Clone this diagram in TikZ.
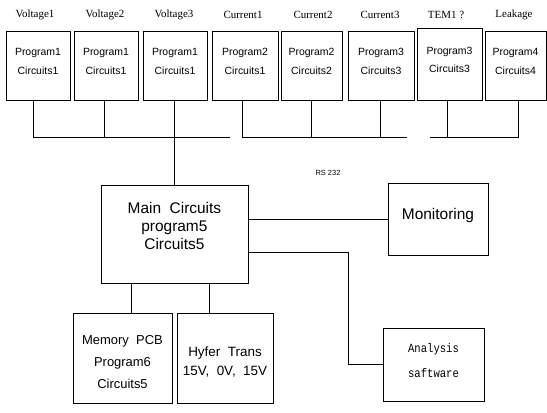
\documentclass[tikz,border=0pt]{standalone}
\usepackage{fontspec}
\setmainfont{Liberation Serif}
\setsansfont{Liberation Sans}
\setmonofont{Liberation Mono}
\newfontfamily\anafont[FakeStretch=0.85]{Liberation Mono}
\begin{document}
\begin{tikzpicture}[x=1bp,y=-1bp,
  every path/.style={line width=0.8bp},
  topbox/.style={draw,minimum height=69bp,inner sep=0pt},
  toptext/.style={font=\sffamily\fontsize{10.5}{18.5}\selectfont,align=center,inner sep=0pt},
  toplabel/.style={font=\fontsize{11}{12}\selectfont,inner sep=0pt},
  bigbox/.style={draw,inner sep=0pt},
]
\fill[white] (0,0) rectangle (547,412);
\useasboundingbox (0,0) rectangle (547,412);

% top labels
\node[toplabel] (l1) at (35,15) {Voltage1};
\node[toplabel] (l2) at (105,15) {Voltage2};
\node[toplabel] (l3) at (174,15) {Voltage3};
\node[toplabel] (l4) at (243,15) {Current1};
\node[toplabel] (l5) at (313,15) {Current2};
\node[toplabel] (l6) at (380,15) {Current3};
\node[toplabel] (l7) at (446,15) {TEM1 ?};
\node[toplabel] (l8) at (514,15) {Leakage};

% top boxes
\node[topbox,minimum width=64bp] (b1) at (38,65.5) {};
\node[topbox,minimum width=64bp] (b2) at (106,65.5) {};
\node[topbox,minimum width=64bp] (b3) at (175,65.5) {};
\node[topbox,minimum width=66bp] (b4) at (245,65.5) {};
\node[topbox,minimum width=61bp] (b5) at (311.5,65.5) {};
\node[topbox,minimum width=66bp] (b6) at (381,65.5) {};
\node[topbox,minimum width=65bp,minimum height=72bp] (b7) at (449.5,64) {};
\node[topbox,minimum width=61bp] (b8) at (515.5,65.5) {};

\node[toptext] (t1) at ([yshift=4bp]b1.center) {Program1\\Circuits1};
\node[toptext] (t2) at ([yshift=4bp]b2.center) {Program1\\Circuits1};
\node[toptext] (t3) at ([yshift=4bp]b3.center) {Program1\\Circuits1};
\node[toptext] (t4) at ([yshift=4bp]b4.center) {Program2\\Circuits1};
\node[toptext] (t5) at ([yshift=4bp]b5.center) {Program2\\Circuits2};
\node[toptext] (t6) at ([yshift=4bp]b6.center) {Program3\\Circuits3};
\node[toptext] (t7) at ([yshift=4bp]b7.center) {Program3\\Circuits3};
\node[toptext] (t8) at ([yshift=4bp]b8.center) {Program4\\Circuits4};

% main and other boxes
\node[bigbox,minimum width=147bp,minimum height=98bp] (main) at (174.4,234) {};
\node[font=\sffamily\fontsize{15.5}{18.5}\selectfont,align=center,inner sep=0pt] (maintext) at ([yshift=8bp]main.center) {Main\ \ Circuits\\program5\\Circuits5};

\node[bigbox,minimum width=100bp,minimum height=72bp] (mon) at (438,219) {};
\node[font=\sffamily\fontsize{15.5}{18}\selectfont,inner sep=0pt] (montext) at ([yshift=4bp]mon.center) {Monitoring};

\node[bigbox,minimum width=101bp,minimum height=73bp] (ana) at (433.5,364.5) {};
\node[font=\anafont\fontsize{12.5}{25}\selectfont,align=center,inner sep=0pt] (anatext) at ([yshift=4bp]ana.center) {Analysis\\saftware};

\node[bigbox,minimum width=99bp,minimum height=90bp] (mem) at (122.5,358) {};
\node[font=\sffamily\fontsize{13}{22.5}\selectfont,align=center,inner sep=0pt] (memtext) at ([yshift=-4bp]mem.center) {Memory\ \ PCB\\Program6\\Circuits5};

\node[bigbox,minimum width=96bp,minimum height=90bp] (hyf) at (225,358) {};
\node[font=\sffamily\fontsize{13.5}{18.5}\selectfont,align=center,inner sep=0pt] (hyftext) at ([yshift=-4bp]hyf.center) {Hyfer\ \ Trans\\15V,\ \ 0V,\ \ 15V};

\node[font=\sffamily\fontsize{7.5}{8}\selectfont,inner sep=0pt] (rs) at (328,173) {RS\ 232};

% bus coordinates
\coordinate (busA) at (230,137);
\coordinate (busB) at (407,137);
\coordinate (busC) at (430,137);

% bus connections
\draw ([xshift=-5bp]b1.south) |- (busA);
\draw ([xshift=-2bp]b2.south) -- ([xshift=-2bp]b2.south |- busA);
\draw ([xshift=-1bp]b3.south) -- ([xshift=-1bp]b3.south |- main.north);
\draw ([xshift=-3bp]b4.south) |- (busB);
\draw (b5.south) -- (b5.south |- busB);
\draw ([xshift=-1bp]b6.south) -- ([xshift=-1bp]b6.south |- busB);
\draw ([xshift=-2.5bp]b7.south) -- ([xshift=-2.5bp]b7.south |- busC);
\draw (busC) -| ([xshift=3bp]b8.south);

% main connections
\draw (mon.west -| main.east) -- (mon.west);
\coordinate (jog) at (348,252);
\draw (jog -| main.east) -- (jog) |- (ana.west);
\draw ([xshift=8.5bp]mem.north) -- ([xshift=8.5bp]mem.north |- main.south);
\draw ([xshift=-16bp]hyf.north) -- ([xshift=-16bp]hyf.north |- main.south);
\end{tikzpicture}
\end{document}
